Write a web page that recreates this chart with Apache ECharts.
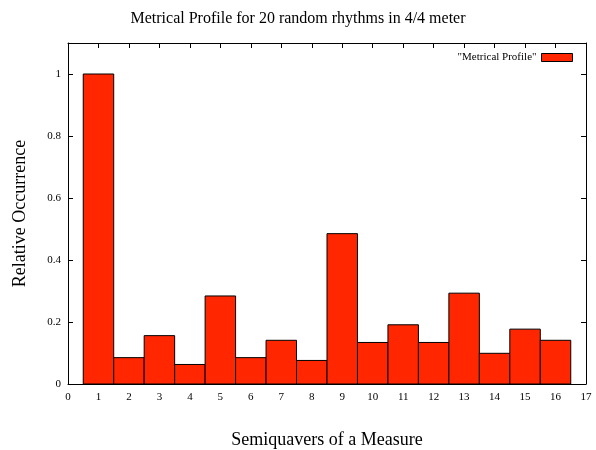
<!DOCTYPE html>
<html style="height: 100%">
   <head>
       <meta charset="utf-8">
       <script type="text/javascript" src="https://cdn.jsdelivr.net/npm/echarts@6/dist/echarts.min.js"></script>
   </head>
   <body style="height: 100%; margin: 0; background: #fff">
       <div id="container" style="width: 596px; height: 450px"></div>
       <script type="text/javascript">
var dom = document.getElementById("container");
var myChart = echarts.init(dom);

// semiquaver positions and their relative occurrence
var positions = [1, 2, 3, 4, 5, 6, 7, 8, 9, 10, 11, 12, 13, 14, 15, 16];
var occurrence = [1.0, 0.085, 0.156, 0.063, 0.284, 0.085, 0.141, 0.076,
                  0.485, 0.134, 0.191, 0.134, 0.293, 0.099, 0.177, 0.141];

var font = 'Liberation Serif';
var data = positions.map(function (p, i) { return [p, occurrence[i]]; });

var xCommon = {
    type: 'value', min: 0, max: 17, interval: 1,
    splitLine: { show: false },
    axisLine: { onZero: false, lineStyle: { color: '#000', width: 1 } },
    axisTick: { inside: true, length: 5, lineStyle: { color: '#000' } }
};
var yCommon = {
    type: 'value', min: 0, max: 1.1, interval: 0.2,
    splitLine: { show: false },
    axisLine: { show: true, onZero: false, lineStyle: { color: '#000', width: 1 } },
    axisTick: { inside: true, length: 5, lineStyle: { color: '#000' } }
};

option = {
    backgroundColor: '#fff',
    animation: false,
    title: {
        text: 'Metrical Profile for 20 random rhythms in 4/4 meter',
        left: 'center',
        top: 6,
        textStyle: { fontFamily: font, fontSize: 16, fontWeight: 'normal', color: '#000' }
    },
    legend: {
        right: 18,
        top: 47,
        align: 'right',
        itemWidth: 31,
        itemHeight: 8,
        itemGap: 5,
        data: [{ name: '"Metrical Profile"', icon: 'rect' }],
        textStyle: { fontFamily: font, fontSize: 11, color: '#000' },
        itemStyle: { borderColor: '#000', borderWidth: 1 }
    },
    grid: { left: 68, right: 10, top: 43, bottom: 66, outerBoundsMode: 'none' },
    xAxis: [
        Object.assign({}, xCommon, {
            position: 'bottom',
            name: 'Semiquavers of a Measure',
            nameLocation: 'middle',
            nameGap: 47,
            nameTextStyle: { fontFamily: font, fontSize: 18, color: '#000' },
            axisLabel: { fontFamily: font, fontSize: 11, color: '#000', margin: 8 }
        }),
        Object.assign({}, xCommon, { position: 'top', axisLabel: { show: false } })
    ],
    yAxis: [
        Object.assign({}, yCommon, {
            position: 'left',
            name: 'Relative Occurrence',
            nameLocation: 'middle',
            nameGap: 39,
            nameTextStyle: { fontFamily: font, fontSize: 18, color: '#000' },
            axisLabel: {
                fontFamily: font, fontSize: 11, color: '#000', margin: 7,
                formatter: function (v) {
                    if (v > 1.0001) return '';
                    return String(Math.round(v * 10) / 10);
                }
            }
        }),
        Object.assign({}, yCommon, { position: 'right', axisLabel: { show: false } })
    ],
    series: [{
        name: '"Metrical Profile"',
        type: 'custom',
        itemStyle: { color: '#ff2600' },
        renderItem: function (params, api) {
            var x = api.value(0), y = api.value(1);
            var p0 = api.coord([x - 0.5, y]);
            var p1 = api.coord([x + 0.5, 0]);
            return {
                type: 'rect',
                shape: { x: p0[0], y: p0[1], width: p1[0] - p0[0], height: p1[1] - p0[1] },
                style: { fill: '#ff2600', stroke: '#000', lineWidth: 1 }
            };
        },
        encode: { x: 0, y: 1 },
        data: data
    }]
};

if (option && typeof option === "object") {
    myChart.setOption(option, true);
}
       </script>
   </body>
</html>
